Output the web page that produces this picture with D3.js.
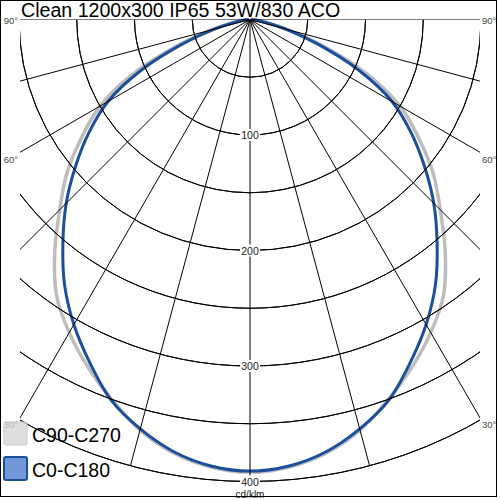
<!DOCTYPE html>
<html><head><meta charset="utf-8">
<script src="https://cdn.jsdelivr.net/npm/d3@7/dist/d3.min.js"></script>
<style>body{margin:0;background:#fff}svg{display:block}</style>
</head><body>
<script>
// ---- data ----
const title = "Clean 1200x300 IP65 53W/830 ACO";
const gammaAngles = [0,5,10,15,20,25,30,35,40,45,50,55,60,65,70,75,80,85,90];
const c0c180 =  [391,388,380,367,351,328,305,280,252,225,197,170,142,104,63,32,13,5,1];
const c90c270 = [392,389,381,368,350,332,313,292,263,233,207,178,150,112,68,34,14,5,1];
const ringValues = [50,100,150,200,250,300,350,400];
const ringLabels = [100,200,300,400];
const spokeAngles = [0,15,30,45,60,75,90];
const angleLabels = [30,60,90];
const seriesNames = ["C90-C270","C0-C180"];
const unitLabel = "cd/klm";

const W=500,H=500, cx=250, cy=19.5, xmin=20, xmax=480;
const svg=d3.select("body").append("svg").attr("width",W).attr("height",H)
  .style("font-family","'Liberation Sans',Arial,sans-serif");
const r=d3.scaleLinear().domain([0,400]).range([0,462]);
const rad=d=>d*Math.PI/180;

svg.append("defs").append("clipPath").attr("id","gclip")
  .append("rect").attr("x",xmin).attr("y",cy).attr("width",xmax-xmin).attr("height",H-cy);

const g=svg.append("g").attr("transform",`translate(${cx},${cy})`);
const grid=svg.append("g").attr("clip-path","url(#gclip)").append("g").attr("transform",`translate(${cx},${cy})`);

// rings (lower half)
const arc=d3.arc().innerRadius(d=>r(d)).outerRadius(d=>r(d)).startAngle(Math.PI/2).endAngle(3*Math.PI/2);
grid.selectAll("path.ring").data(ringValues).join("path").attr("class","ring")
  .attr("d",arc).attr("fill","none").attr("stroke","#000").attr("stroke-width",1);

// spokes
const spokeData=[];
spokeAngles.forEach(a=>{spokeData.push(a); if(a>0) spokeData.push(-a);});
grid.selectAll("line.spoke").data(spokeData).join("line").attr("class","spoke")
  .attr("x1",0).attr("y1",0)
  .attr("x2",d=>Math.sin(rad(d))*r(400)).attr("y2",d=>Math.cos(rad(d))*r(400))
  .attr("stroke","#000").attr("stroke-width",1);

// angle labels
angleLabels.forEach(a=>{
  const ey = a===90 ? -6 : (xmax-cx)/Math.tan(rad(a));
  [-1,1].forEach(s=>{
    svg.append("text").attr("x", s<0? xmin-2 : xmax+2).attr("y", cy+ey+10.5)
      .attr("text-anchor", s<0?"end":"start").attr("font-size",9.5).attr("fill","#444")
      .text(a+"°");
  });
});

// ring labels
ringLabels.forEach(v=>{
  const y=cy+r(v);
  svg.append("rect").attr("x",cx-10).attr("y",y-6).attr("width",20).attr("height",12).attr("fill","#fff");
  svg.append("text").attr("x",cx).attr("y",y+4).attr("text-anchor","middle")
    .attr("font-size",10.5).attr("fill","#222").text(v);
});
svg.append("text").attr("x",cx).attr("y",cy+r(400)+16).attr("text-anchor","middle")
  .attr("font-size",10).attr("fill","#222").text(unitLabel);

// curves
function curvePoints(vals){
  const pts=[];
  for(let i=gammaAngles.length-1;i>=0;i--) pts.push([Math.PI+rad(gammaAngles[i]), r(vals[i])]);
  for(let i=1;i<gammaAngles.length;i++) pts.push([Math.PI-rad(gammaAngles[i]), r(vals[i])]);
  return pts;
}
const line=d3.lineRadial().angle(d=>d[0]).radius(d=>d[1]).curve(d3.curveCatmullRom);
const series=[{name:seriesNames[0],vals:c90c270,color:"#bdbdbd",w:3.5},
              {name:seriesNames[1],vals:c0c180,color:"#1b4f9c",w:3}];
g.selectAll("path.curve").data(series).join("path").attr("class","curve")
  .attr("d",d=>line(curvePoints(d.vals))).attr("fill","none")
  .attr("stroke",d=>d.color).attr("stroke-width",d=>d.w).attr("stroke-linejoin","round");

// legend
const leg=[{y:422,fill:"#d6d6d6",stroke:"#c8c8c8",op:0.8},{y:457,fill:"#7398d8",stroke:"#1b4f9c",op:1}];
leg.forEach((l,i)=>{
  svg.append("rect").attr("x",4).attr("y",l.y).attr("width",23).attr("height",23).attr("rx",2)
    .attr("fill",l.fill).attr("fill-opacity",l.op).attr("stroke",l.stroke).attr("stroke-width",i?2:1);
  svg.append("text").attr("x",32).attr("y",l.y+20).attr("font-size",19.5).attr("fill","#000").text(seriesNames[i]);
});

// title
svg.append("text").attr("x",21).attr("y",17).attr("font-size",19.6).attr("fill","#000").text(title);

// frame
svg.append("rect").attr("x",0.5).attr("y",0.5).attr("width",496).attr("height",496)
  .attr("fill","none").attr("stroke","#000");
</script>
</body></html>
